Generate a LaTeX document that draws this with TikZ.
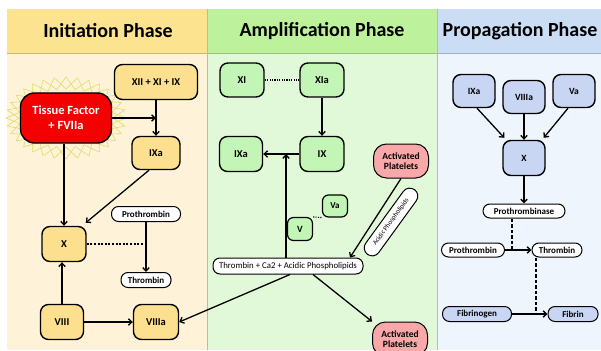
\documentclass[tikz,border=0pt]{standalone}
\usepackage{fontspec}
\setmainfont{Carlito}
\usetikzlibrary{arrows.meta,calc}
\definecolor{inihead}{HTML}{FBE38F}
\definecolor{inibody}{HTML}{FEF3D9}
\definecolor{amphead}{HTML}{BDF19B}
\definecolor{ampbody}{HTML}{E2F9D9}
\definecolor{prophead}{HTML}{CBDDF5}
\definecolor{propbody}{HTML}{EFF5FD}
\definecolor{yfill}{HTML}{FCE08F}
\definecolor{gfill}{HTML}{C2F5B6}
\definecolor{bfill}{HTML}{C8D6F4}
\definecolor{pfill}{HTML}{F8A8A8}
\definecolor{rfill}{HTML}{F40000}
\definecolor{burst}{HTML}{DEDC66}
\tikzset{
  base/.style={draw=black, line width=1.4pt, inner sep=0pt, align=center},
  ybox/.style={base, fill=yfill, rounded corners=8pt, font=\bfseries\fontsize{10.5}{11}\selectfont},
  gbox/.style={base, fill=gfill, rounded corners=8pt, font=\bfseries\fontsize{10.5}{11}\selectfont},
  bbox/.style={base, fill=bfill, rounded corners=8pt, font=\bfseries\fontsize{9.5}{10}\selectfont},
  wpill/.style={base, line width=1pt, fill=white, rounded corners=7pt, font=\bfseries\fontsize{9}{10}\selectfont},
  bpill/.style={base, line width=1pt, fill=bfill, rounded corners=7pt, font=\bfseries\fontsize{9}{10}\selectfont},
  ppill/.style={base, line width=1pt, fill=pfill, rounded corners=13pt, font=\bfseries\fontsize{9.5}{10.5}\selectfont},
  arr/.style={line width=1.3pt, -{Straight Barb[length=3.5pt,width=6.5pt]}},
  dotline/.style={line width=1.6pt, dash pattern=on 2pt off 1.6pt},
  dashline/.style={line width=1.3pt, dash pattern=on 3.5pt off 2pt},
  headtxt/.style={font=\bfseries\fontsize{20}{22}\selectfont}
}
\begin{document}
\begin{tikzpicture}[x=1pt,y=-1pt]
\useasboundingbox (0,0) rectangle (601,350);
\fill[white] (0,0) rectangle (601,350);
% panels
\fill[inibody] (7,53) rectangle (207,350);
\fill[inihead] (7,9) rectangle (207,53);
\fill[ampbody] (207,53) rectangle (437,350);
\fill[amphead] (207,9) rectangle (437,53);
\fill[propbody] (437,53) rectangle (601,350);
\fill[prophead] (437,9) rectangle (601,53);
\draw[inihead!80!black, line width=0.5pt] (7,53) -- (207,53);
\draw[amphead!80!black, line width=0.5pt] (207,53) -- (437,53);
\draw[prophead!80!black, line width=0.5pt] (437,53) -- (601,53);
\draw[amphead!85!black, line width=0.6pt] (207,9) -- (207,350);
\draw[prophead!85!black, line width=0.6pt] (437,9) -- (437,350);
\node[headtxt] (h1) at (108,31) {Initiation Phase};
\node[headtxt] (h2) at (322,31) {Amplification Phase};
\node[headtxt] (h3) at (520,31) {Propagation Phase};

% starburst behind tissue factor
\foreach \i in {0,...,31} {
  \pgfmathsetmacro{\a}{\i*11.25}
  \pgfmathsetmacro{\b}{\i*11.25+11.25}
  \draw[burst, line width=0.6pt] ({66+60*cos(\a)},{118+41*sin(\a)}) -- ({66+47*cos(\b)},{118+29*sin(\b)});
  \draw[burst, line width=0.6pt] ({66+47*cos(\a)},{118+29*sin(\a)}) -- ({66+60*cos(\b)},{118+41*sin(\b)});
}

% Initiation nodes
\node[base, fill=rfill, rounded corners=14pt, minimum width=91pt, minimum height=50pt, text=white, font=\bfseries\fontsize{12.5}{15}\selectfont] (tf) at (66,118) {Tissue Factor\\+ FVIIa};
\node[ybox, minimum width=83pt, minimum height=35pt] (xii) at (156,82) {XII + XI + IX};
\node[ybox, minimum width=48pt, minimum height=33pt] (ixa) at (156,153) {IXa};
\node[ybox, minimum width=44pt, minimum height=35pt] (x) at (64,244) {X};
\node[wpill, minimum width=69pt, minimum height=15pt] (pro1) at (146,214) {Prothrombin};
\node[wpill, minimum width=50pt, minimum height=15pt] (thr1) at (146,280) {Thrombin};
\node[ybox, minimum width=43pt, minimum height=35pt] (viii) at (62,322) {VIII};
\node[ybox, minimum width=45pt, minimum height=35pt] (viiia) at (156,322) {VIIIa};

\draw[arr] (xii.south) -- (ixa.north);
\draw[arr] (tf.east) -- (ixa.north |- tf.east);
\draw[arr] (tf.south -| x.north) -- (x.north);
\draw[arr] ([xshift=-7pt]ixa.south) -- ([shift={(-1pt,3pt)}]x.north east);
\draw[arr] (pro1.south) -- (thr1.north);
\draw[dotline] (x.east) -- ([xshift=-2pt]pro1.south |- x.east);
\draw[arr] (viii.north) -- (viii.north |- x.south);
\draw[arr] (viii.east) -- (viiia.west);

% Amplification nodes
\node[gbox, minimum width=44pt, minimum height=34pt] (xi) at (242,80) {XI};
\node[gbox, minimum width=44pt, minimum height=34pt] (xia) at (322,80) {XIa};
\node[gbox, minimum width=43pt, minimum height=35pt] (ixa2) at (241,154) {IXa};
\node[gbox, minimum width=44pt, minimum height=35pt] (ix) at (322,154) {IX};
\node[ppill, minimum width=55pt, minimum height=34pt] (ap1) at (401,161) {Activated\\Platelets};
\node[gbox, rounded corners=6pt, line width=1.2pt, minimum width=25pt, minimum height=22pt, font=\bfseries\fontsize{9}{9}\selectfont] (va) at (335,206) {Va};
\node[gbox, rounded corners=6pt, line width=1.2pt, minimum width=25pt, minimum height=23pt, font=\bfseries\fontsize{9.5}{9.5}\selectfont] (v) at (300,229) {V};
\node[wpill, minimum width=150pt, minimum height=16pt, font=\fontsize{8.8}{9}\selectfont] (tc) at (288,266) {Thrombin + Ca2 + Acidic Phospholipids};
\node[wpill, rotate=54, minimum width=80pt, minimum height=16pt, rounded corners=8pt, font=\fontsize{6.8}{7}\selectfont] (acp) at (391,222) {Acidic Phospholipids};
\node[ppill, minimum width=55pt, minimum height=34pt] (ap2) at (400,339) {Activated\\Platelets};

\draw[dotline, line width=1.1pt, dash pattern=on 1.2pt off 1.2pt] (xi.east) -- (xia.west);
\draw[dotline, line width=1.1pt, dash pattern=on 1.2pt off 1.2pt] (v.north east) -- (va.south west);
\draw[arr] (xia.south) -- (ix.north);
\draw[arr] (ix.west) -- (ixa2.west -| ixa2.east);
\draw[arr] (tc.north -| 286,0) -- (286,154);
\draw[arr] (ap1.south) -- (tc.north -| 350,0);
\draw[arr] (tc.south -| 313,0) -- (ap2.north west);
\draw[arr] (tc.south -| 290,0) -- (viiia.east);

% Propagation nodes
\node[bbox, minimum width=42pt, minimum height=33pt] (ixa3) at (474,91) {IXa};
\node[bbox, minimum width=42pt, minimum height=33pt] (viiia3) at (524,97) {VIIIa};
\node[bbox, minimum width=42pt, minimum height=33pt] (va3) at (574,91) {Va};
\node[bbox, minimum width=42pt, minimum height=35pt] (x3) at (524,158) {X};
\node[wpill, minimum width=82pt, minimum height=14pt] (ptase) at (524,211) {Prothrombinase};
\node[wpill, minimum width=63pt, minimum height=14pt] (pro3) at (473,250) {Prothrombin};
\node[wpill, minimum width=50pt, minimum height=14pt] (thr3) at (557,250) {Thrombin};
\node[bpill, minimum width=69pt, minimum height=15pt] (fbg) at (477,314) {Fibrinogen};
\node[bpill, minimum width=50pt, minimum height=15pt] (fbn) at (573,314) {Fibrin};

\draw[arr] ([xshift=3pt]ixa3.south) -- ([shift={(2pt,2pt)}]x3.north west);
\draw[arr] (viiia3.south) -- (x3.north);
\draw[arr] ([xshift=-6pt]va3.south) -- ([shift={(-2pt,2pt)}]x3.north east);
\draw[arr] (x3.south) -- (ptase.north);
\draw[arr] (pro3.east) -- (thr3.west);
\draw[dashline] (ptase.south -| 512,0) -- (512,250);
\draw[arr] (fbg.east) -- (fbn.west);
\draw[dashline] (thr3.south -| 536,0) -- (536,314);
\end{tikzpicture}
\end{document}
